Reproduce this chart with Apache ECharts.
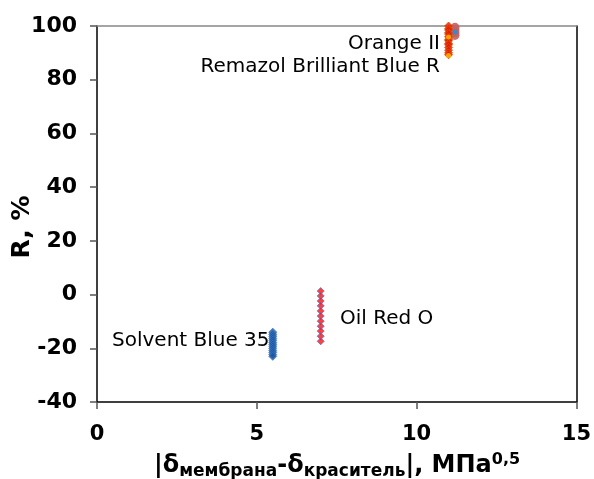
<!DOCTYPE html>
<html>
<head>
<meta charset="utf-8">
<script src="https://cdn.jsdelivr.net/npm/echarts@6/dist/echarts.min.js"></script>
<style>
  html, body { margin: 0; padding: 0; background: #fff; }
  #chart { width: 594px; height: 479px; }
</style>
</head>
<body>
<div id="chart"></div>
<script>
// Rejection R (%) versus solubility-parameter difference for each dye
const xTicks = [0, 5, 10, 15];
const yTicks = [-40, -20, 0, 20, 40, 60, 80, 100];

const solventBlueX = 5.5;
const solventBlueR = [-14, -14.8, -15.5, -16.3, -17, -17.8, -18.5, -19.2, -20, -20.8, -21.5, -22.3, -23];

const oilRedX = 7;
const oilRedR = [1.3, -0.5, -2.4, -4.2, -6.1, -8, -9.9, -11.8, -13.6, -15.5, -17.4];

const orangeX = 11;
const orangeR = [100, 99, 98.5, 97.5, 97, 96, 95, 94.5, 93.5, 93, 92, 91, 90, 89.3];

const remazolX = 11;
const remazolR = [95.9, 89];

const pinkX = 11.2;
const pinkR = [99.5, 98.5, 97.5, 96.5];

const blueDotX = 11.2;
const blueDotR = [97.8];

const pts = (x, arr) => arr.map(v => [x, v]);

const chart = echarts.init(document.getElementById('chart'), null, { renderer: 'canvas' });
const FONT = 'DejaVu Sans';

chart.setOption({
  animation: false,
  backgroundColor: '#fff',
  grid: { left: 97, right: 15, top: 26, bottom: 77, containLabel: false },
  xAxis: [{
    type: 'value', min: 0, max: 15, interval: 5,
    axisLine: { show: true, onZero: false, lineStyle: { color: '#000', width: 1.5 } },
    axisTick: { show: true, inside: false, length: 7, lineStyle: { color: '#555', width: 1.5 } },
    axisLabel: { margin: 22, fontFamily: FONT, fontWeight: 'bold', fontSize: 21, color: '#000',
      formatter: v => xTicks.includes(v) ? String(v) : '' },
    splitLine: { show: false }
  }, {
    type: 'value', min: 0, max: 15, position: 'top',
    axisLine: { show: true, onZero: false, lineStyle: { color: '#888', width: 1.5 } },
    axisTick: { show: false }, axisLabel: { show: false }, splitLine: { show: false }
  }],
  yAxis: [{
    type: 'value', min: -40, max: 100, interval: 20,
    axisLine: { show: true, onZero: false, lineStyle: { color: '#000', width: 1.5 } },
    axisTick: { show: true, inside: false, length: 7, lineStyle: { color: '#555', width: 1.5 } },
    axisLabel: { margin: 20, fontFamily: FONT, fontWeight: 'bold', fontSize: 22, color: '#000',
      formatter: v => yTicks.includes(v) ? String(v) : '' },
    splitLine: { show: false }
  }, {
    type: 'value', min: -40, max: 100, position: 'right',
    axisLine: { show: true, onZero: false, lineStyle: { color: '#000', width: 1.5 } },
    axisTick: { show: false }, axisLabel: { show: false }, splitLine: { show: false }
  }],
  series: [
    {
      name: 'Solvent Blue 35', type: 'scatter', symbol: 'diamond', symbolSize: [8, 8],
      data: pts(solventBlueX, solventBlueR),
      itemStyle: { color: '#1a56a0', borderColor: '#3a78c4', borderWidth: 1 }
    },
    {
      name: 'Oil Red O', type: 'scatter', symbol: 'diamond', symbolSize: [7, 7],
      data: pts(oilRedX, oilRedR),
      itemStyle: { color: '#ff1010', borderColor: '#5577c8', borderWidth: 1 }
    },
    {
      name: 'pink', type: 'scatter', symbol: 'circle', symbolSize: [9, 9],
      data: pts(pinkX, pinkR),
      itemStyle: { color: '#c46060', opacity: 0.9 }
    },
    {
      name: 'Orange II', type: 'scatter', symbol: 'diamond', symbolSize: [8, 8],
      data: pts(orangeX, orangeR),
      itemStyle: { color: '#dd1a00', borderColor: '#e85000', borderWidth: 1 }
    },
    {
      name: 'Remazol Brilliant Blue R', type: 'scatter', symbol: 'circle', symbolSize: [5, 5],
      data: pts(remazolX, remazolR),
      itemStyle: { color: '#ffc000' }
    },
    {
      name: 'blue', type: 'scatter', symbol: 'circle', symbolSize: [5, 5],
      data: pts(blueDotX, blueDotR),
      itemStyle: { color: '#1e90e0' }
    }
  ],
  graphic: [
    { type: 'text', style: { x: 440, y: 44, text: 'Orange II', align: 'right', verticalAlign: 'middle',
      font: '20px "DejaVu Sans"', fill: '#000' } },
    { type: 'text', style: { x: 440, y: 67, text: 'Remazol Brilliant Blue R', align: 'right', verticalAlign: 'middle',
      font: '20px "DejaVu Sans"', fill: '#000' } },
    { type: 'text', style: { x: 340, y: 319, text: 'Oil Red O', align: 'left', verticalAlign: 'middle',
      font: '20px "DejaVu Sans"', fill: '#000' } },
    { type: 'text', style: { x: 112, y: 341, text: 'Solvent Blue 35', align: 'left', verticalAlign: 'middle',
      font: '20px "DejaVu Sans"', fill: '#000' } },
    { type: 'text', x: 22, y: 227, rotation: Math.PI / 2,
      style: { x: 0, y: 0, text: 'R, %', align: 'center', verticalAlign: 'middle',
        font: 'bold 25px "DejaVu Sans"', fill: '#000' } },
    { type: 'text', x: 337, y: 466,
      style: { x: 0, y: 0, align: 'center', verticalAlign: 'middle',
        text: '{m||δ}{s|мембрана}{m|-δ}{s|краситель}{m||, МПа}{p|0,5}',
        rich: {
          m: { font: 'bold 24px "DejaVu Sans"', fill: '#000', color: '#000' },
          s: { font: 'bold 17px "DejaVu Sans"', fill: '#000', color: '#000', padding: [12, 0, 0, 0] },
          p: { font: 'bold 16px "DejaVu Sans"', fill: '#000', color: '#000', padding: [0, 0, 12, 0] }
        } } }
  ]
});
</script>
</body>
</html>
